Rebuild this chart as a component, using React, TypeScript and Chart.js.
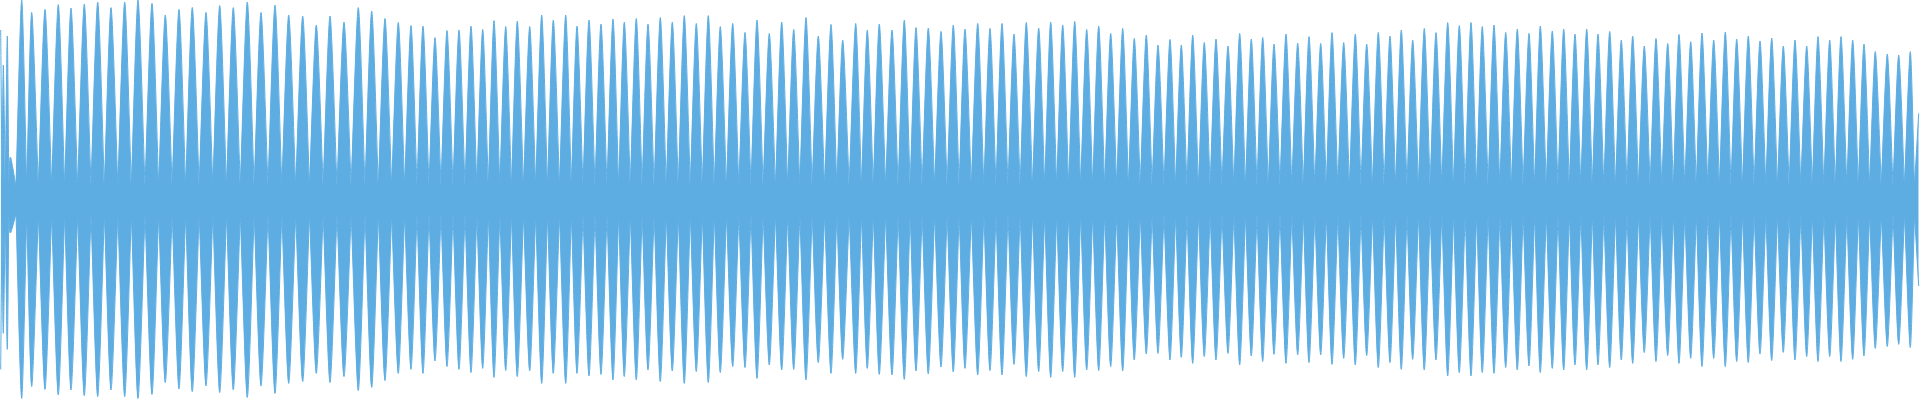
import React, { useEffect, useRef } from "react";
import { Chart, registerables } from "chart.js";

Chart.register(...registerables);

// Waveform: position of each beat peak (time frames, 0..1920)
// with the upper and lower peak amplitude (% of full scale).
const PEAK_T = [
  0.7, 3.3, 7.3, 10.3,
  21.7, 31.7, 45, 58.3, 71, 84.3, 97.7, 111, 124.7, 138, 152, 165.3, 179, 192.3, 206, 219.7,
  233.3, 247.3, 261, 275, 288.7, 302.7, 316.3, 330, 344, 358.3, 371.7, 385, 398.3, 411, 423,
  435, 447, 459, 471,
  482.7, 494, 505.7, 517.3, 529.7, 541.7, 553.3, 565.7, 577, 589, 601, 613, 624.3, 636.3, 648,
  660.3, 672.3, 684.3, 696.3, 708.3, 720.3, 732.7, 745, 757, 769.3, 781.7, 793.7, 806, 818.3,
  831, 842.7, 855.7, 867.3, 879.3, 892, 904.3, 916, 928.3, 941, 953.3,
  965, 977.7, 990, 1002, 1014, 1026.3, 1038.7, 1050.7, 1062.7, 1074.7, 1086.7, 1098.7, 1110.7,
  1122.7, 1134.3, 1146.3, 1158, 1170, 1181.3, 1192.7, 1204.3, 1216, 1228, 1239.7, 1251.3,
  1262.7, 1274, 1286, 1297.7, 1309, 1320.7, 1332, 1343.7, 1355.3, 1366.7, 1378.3, 1390, 1401.3,
  1412.7, 1424.3, 1436,
  1447.7, 1459.3, 1471, 1482.3, 1494, 1505.7, 1517.3, 1529, 1540.3, 1552.3, 1563.7, 1575,
  1586.7, 1598, 1609.7, 1621.3, 1632.7, 1644.3, 1656, 1667.7, 1679, 1690.7, 1702, 1713.7,
  1725.3, 1736.7, 1748.3, 1760, 1771.7, 1783.3, 1795, 1806.7, 1818, 1829.7, 1841, 1852.7,
  1864, 1875.3, 1887.3, 1898.7, 1910.3, 1918.7,
];

const PEAK_HI = [
  85, 67.5, 82, 21.5,
  100, 93.8, 95.3, 97.7, 96, 98, 99, 96.2, 99, 100, 98.3, 92.5, 95.3, 96.3, 93.8, 97.2,
  96.2, 99, 93.8, 97.5, 92.5, 92, 87.5, 92, 89, 96.2, 94.5, 90.8, 88.8, 87.2, 87,
  81.2, 84.7, 85, 87,
  85.3, 89.7, 86.7, 89.5, 86.7, 92.5, 90, 92.5, 87, 90, 88, 90.5, 89, 90.8, 88,
  91.2, 89, 92.2, 88.3, 92.2, 86.7, 88.3, 83.8, 90, 83.3, 89, 85.3, 91.2, 82,
  87.8, 80, 88.3, 85, 88, 85, 90, 86.2, 86, 84.3, 87.5,
  85.5, 88.3, 85.8, 88.3, 83, 88.8, 86, 89, 87.5, 89.3, 85.3, 87, 83.3,
  85.8, 80.8, 82.5, 77.5, 80.3, 77.5, 82.5, 78.8, 80.5, 77, 83.3, 80.5,
  81.3, 78, 83, 78.5, 81.7, 78.3, 83.7, 78.7, 83, 78, 83.8, 82, 85,
  80, 85.8, 83.7,
  88.7, 87.2, 88.7, 86.7, 87.5, 83.8, 85.5, 83.3, 87, 84.5, 85.5, 83,
  85.5, 83, 84.3, 80, 82, 77, 80.8, 78.3, 82.8, 79.2, 83.5, 80,
  84, 80.5, 82, 79.5, 81, 77, 80, 77, 81.7, 80, 81.7, 80,
  78, 74.2, 73, 72.5, 74.2, 43.3,
];

const PEAK_LO = [
  -84.7, -66.7, -74.7, -16.5,
  -99.2, -93.3, -94.7, -97.5, -95, -97.8, -98.3, -95, -98.3, -99.2, -97.2, -91.3, -94.5, -95.8, -93, -96.3,
  -95, -98.7, -93, -96.7, -91.7, -90.8, -86.7, -91.3, -88.3, -95.3, -93.7, -90.3, -86.7, -84.7, -86.7,
  -80.5, -83.3, -84.7, -86.3,
  -84.2, -88.7, -85.3, -88.3, -85.5, -91.7, -86.7, -91.7, -86.7, -88, -87.2, -90, -88.3, -90, -85,
  -90.8, -85.5, -91.7, -85.8, -91.3, -86.3, -83.3, -83.8, -89.2, -82.5, -85, -84.7, -90, -81.3,
  -86.7, -79.7, -86.7, -84.2, -87.2, -87.5, -89.7, -85.5, -87, -83.5, -86,
  -84.2, -87.5, -85.3, -87.5, -82.2, -88.3, -85.8, -88.7, -85.8, -88.7, -85, -85.3, -83.3,
  -85.5, -80, -77, -76.7, -80, -78.7, -81.7, -78.3, -80, -76.7, -82.5, -78,
  -80.8, -77.2, -81.7, -77.5, -81.3, -77.5, -82.2, -79.2, -82.5, -77.8, -83.8, -81.3, -84.7,
  -79.7, -85, -80,
  -88, -86.3, -88, -86.3, -86.7, -83.8, -85, -83, -86.3, -84.2, -85, -82.5,
  -85, -82.5, -83.8, -80, -81.7, -76.3, -80.8, -77.8, -81.7, -79.2, -83.3, -79.2,
  -83.3, -80.8, -81.3, -77, -80.3, -76.2, -80, -78.3, -80.8, -78.3, -80.8, -79.7,
  -78, -74.2, -73.3, -72.2, -73.8, -43,
];

// Level of the steady band between beats (% of full scale)
const BAND = 7;

const COLOR = "#5DADE2";

// Each trough is given twice so the curve meets it in a sharp notch,
// while the peaks stay rounded.
function envelope(values: number[], band: number) {
  const pts: { x: number; y: number }[] = [];
  for (let i = 0; i < PEAK_T.length; i++) {
    if (i > 0) {
      const mid = (PEAK_T[i - 1] + PEAK_T[i]) / 2;
      pts.push({ x: mid, y: band });
      pts.push({ x: mid, y: band });
    }
    pts.push({ x: PEAK_T[i], y: values[i] });
  }
  return pts;
}

export default function App() {
  const ref = useRef<HTMLCanvasElement | null>(null);
  useEffect(() => {
    document.body.style.margin = "0";
    const canvas = ref.current;
    if (!canvas) return;
    const chart = new Chart(canvas, {
      type: "line",
      data: {
        datasets: [
          {
            data: envelope(PEAK_HI, BAND),
            borderColor: COLOR,
            backgroundColor: COLOR,
            borderWidth: 1,
            fill: "origin",
            pointRadius: 0,
            tension: 0.25,
          },
          {
            data: envelope(PEAK_LO, -BAND),
            borderColor: COLOR,
            backgroundColor: COLOR,
            borderWidth: 1,
            fill: "origin",
            pointRadius: 0,
            tension: 0.25,
          },
        ],
      },
      options: {
        animation: false,
        responsive: false,
        maintainAspectRatio: false,
        layout: { padding: 0 },
        scales: {
          x: { type: "linear", min: 0, max: 1920, display: false },
          y: { min: -100, max: 100, display: false },
        },
        plugins: {
          legend: { display: false },
          tooltip: { enabled: false },
        },
      },
    });
    return () => chart.destroy();
  }, []);
  return (
    <div style={{ width: 1920, height: 400 }}>
      <canvas ref={ref} width={1920} height={400} style={{ display: "block" }} />
    </div>
  );
}
